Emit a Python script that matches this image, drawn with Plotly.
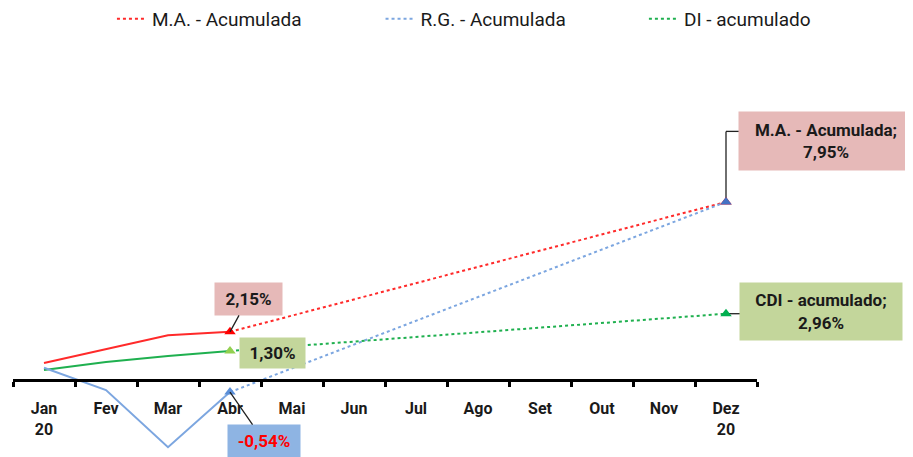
import plotly.graph_objects as go

# categories and tick labels
months = ['Jan', 'Fev', 'Mar', 'Abr', 'Mai', 'Jun', 'Jul', 'Ago', 'Set', 'Out', 'Nov', 'Dez']
month_labels = ['Jan<br>20', 'Fev', 'Mar', 'Abr', 'Mai', 'Jun', 'Jul', 'Ago', 'Set', 'Out', 'Nov', 'Dez<br>20']

# realised values Jan-Abr (%)
real_months = ['Jan', 'Fev', 'Mar', 'Abr']
ma_real = [0.76, 1.38, 2.00, 2.15]
rg_real = [0.55, -0.45, -3.00, -0.54]
di_real = [0.45, 0.80, 1.07, 1.30]

# projection Abr -> Dez (%)
proj_months = ['Abr', 'Dez']
ma_proj = [2.15, 7.95]
rg_proj = [-0.54, 7.95]
di_proj = [1.30, 2.96]

RED = '#ff2a2a'
BLUE = '#7ca6e0'
GREEN = '#1fb04f'
FONT = 'Roboto, sans-serif'

fig = go.Figure()

# solid realised lines (no legend)
fig.add_trace(go.Scatter(x=real_months, y=ma_real, mode='lines', line=dict(color=RED, width=2), showlegend=False, hoverinfo='skip'))
fig.add_trace(go.Scatter(x=real_months, y=di_real, mode='lines', line=dict(color=GREEN, width=2), showlegend=False, hoverinfo='skip'))
fig.add_trace(go.Scatter(x=real_months, y=rg_real, mode='lines', line=dict(color=BLUE, width=2), showlegend=False, hoverinfo='skip'))

# dotted projections (each in its own legend so they spread like the original)
fig.add_trace(go.Scatter(x=proj_months, y=ma_proj, mode='lines', name='M.A. - Acumulada', legend='legend',
                         line=dict(color=RED, width=2, dash='dot')))
fig.add_trace(go.Scatter(x=proj_months, y=rg_proj, mode='lines', name='R.G. - Acumulada', legend='legend2',
                         line=dict(color=BLUE, width=2, dash='dot')))
fig.add_trace(go.Scatter(x=proj_months, y=di_proj, mode='lines', name='DI - acumulado', legend='legend3',
                         line=dict(color=GREEN, width=2, dash='dot')))

# triangle markers
fig.add_trace(go.Scatter(x=proj_months, y=ma_proj, mode='markers', showlegend=False, hoverinfo='skip',
                         marker=dict(symbol='triangle-up', size=10, color=['#ff0000', '#ff0000'])))
fig.add_trace(go.Scatter(x=proj_months, y=di_proj, mode='markers', showlegend=False, hoverinfo='skip',
                         marker=dict(symbol='triangle-up', size=10, color=['#92d050', '#00b050'])))
fig.add_trace(go.Scatter(x=proj_months, y=rg_proj, mode='markers', showlegend=False, hoverinfo='skip',
                         marker=dict(symbol='triangle-up', size=10, color=['#5b8fd8', '#4472c4'])))

lbl_font = dict(family=FONT, size=17, color='#1a1a1a', weight='bold')

fig.add_annotation(x='Abr', y=ma_real[-1], text='2,15%', ax=18, ay=-33, axref='pixel', ayref='pixel',
                   showarrow=True, arrowhead=0, arrowwidth=1.3, arrowcolor='#222',
                   width=55, height=20, bgcolor='#e6b9b8', borderpad=6, font=lbl_font)
fig.add_annotation(x='Abr', y=di_real[-1], text='1,30%', showarrow=False, xshift=42, yshift=-2,
                   width=53, height=18, bgcolor='#c3d69b', borderpad=6, font=lbl_font)
fig.add_annotation(x='Abr', y=rg_real[-1], text='-0,54%', ax=34, ay=49, axref='pixel', ayref='pixel',
                   showarrow=True, arrowhead=0, arrowwidth=1.3, arrowcolor='#222',
                   width=60, height=20, bgcolor='#8eb4e3', borderpad=6,
                   font=dict(family=FONT, size=17, color='#ff0000', weight='bold'))
fig.add_annotation(x='Dez', y=ma_proj[-1], text='M.A. - Acumulada;<br>7,95%', showarrow=False,
                   xshift=100, yshift=61, width=158, height=42, bgcolor='#e6b9b8', borderpad=8, font=lbl_font)
fig.add_annotation(x='Dez', y=di_proj[-1], text='CDI - acumulado;<br>2,96%', showarrow=False,
                   xshift=95, yshift=2, width=146, height=41, bgcolor='#c3d69b', borderpad=8, font=lbl_font)

# leader lines for the Dez labels
elbow_y = ma_proj[-1] + 3.15
fig.add_shape(type='line', xref='x', yref='y', x0=11, x1=11, y0=ma_proj[-1], y1=elbow_y,
              line=dict(color='#222', width=1.3), layer='below')
fig.add_shape(type='line', xref='x', yref='y', x0=11, x1=11.23, y0=elbow_y, y1=elbow_y,
              line=dict(color='#222', width=1.3))
fig.add_shape(type='line', xref='x', yref='y', x0=11, x1=11.23, y0=di_proj[-1], y1=di_proj[-1],
              line=dict(color='#222', width=1.3), layer='below')

top_m = 32
plot_h = 449 - top_m - 5
leg_font = dict(family=FONT, size=19, color='#1a1a1a')
leg_common = dict(orientation='h', y=1 + (top_m + 8) / plot_h, yanchor='top', xanchor='left',
                  font=leg_font, bgcolor='rgba(0,0,0,0)')

y_min, y_max = -3.214, 15.18
fig.update_layout(
    width=905, height=449,
    margin=dict(l=5, r=156, t=top_m, b=5, autoexpand=False),
    paper_bgcolor='white', plot_bgcolor='white',
    font=dict(family=FONT, size=15, color='#1a1a1a'),
    showlegend=True,
    legend=dict(x=0.133, **leg_common),
    legend2=dict(x=0.494, **leg_common),
    legend3=dict(x=0.848, **leg_common),
    xaxis=dict(type='category', categoryorder='array', categoryarray=months,
               tickvals=months, ticktext=month_labels, range=[-0.5, 11.5],
               anchor='free', position=(0 - y_min) / (y_max - y_min), automargin=False,
               showline=True, linecolor='black', linewidth=3,
               ticks='outside', tickson='boundaries', ticklen=5, tickwidth=3, tickcolor='black',
               ticklabelstandoff=13, showgrid=False, zeroline=False,
               tickfont=dict(family=FONT, size=16, color='#1a1a1a', weight='bold')),
    yaxis=dict(range=[y_min, y_max], visible=False, showgrid=False, zeroline=False),
)

fig.write_html('out.html')
